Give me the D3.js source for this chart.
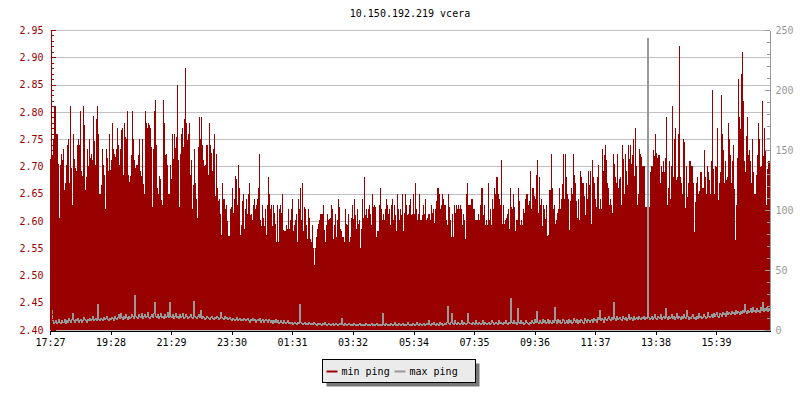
<!DOCTYPE html>
<html><head><meta charset="utf-8">
<script src="https://cdn.jsdelivr.net/npm/d3@7"></script>
<style>
body{margin:0;background:#fff}
svg text{font-family:"DejaVu Sans Mono","Liberation Mono",monospace;font-size:10px}
</style>
</head><body>
<svg id="c" width="800" height="400"></svg>
<script>
const chartTitle = "10.150.192.219 vcera";
const startTime = "17:27";
const stepMinutes = 2;
const seriesNames = ["min ping", "max ping"];
const xTickLabels = ["17:27","19:28","21:29","23:30","01:31","03:32","05:34","07:35","09:36","11:37","13:38","15:39"];
const leftTicks = [2.40,2.45,2.50,2.55,2.60,2.65,2.70,2.75,2.80,2.85,2.90,2.95];
const rightTicks = [0,50,100,150,200,250];

const minPing = [
2.713,2.713,2.719,2.749,2.810,2.810,2.760,2.760,2.705,2.606,
2.702,2.722,2.711,2.731,2.656,2.670,2.702,2.740,2.751,2.670,
2.811,2.697,2.630,2.760,2.714,2.697,2.692,2.740,2.751,2.740,
2.801,2.691,2.682,2.811,2.775,2.656,2.680,2.731,2.700,2.751,
2.716,2.722,2.711,2.792,2.746,2.702,2.786,2.811,2.760,2.650,
2.650,2.665,2.731,2.702,2.685,2.621,2.731,2.716,2.691,2.760,
2.694,2.711,2.780,2.731,2.722,2.717,2.731,2.771,2.740,2.702,
2.731,2.766,2.771,2.685,2.780,2.754,2.751,2.801,2.685,2.671,
2.682,2.720,2.801,2.751,2.711,2.697,2.702,2.702,2.720,2.751,
2.691,2.682,2.751,2.667,2.650,2.801,2.780,2.771,2.780,2.775,
2.771,2.736,2.625,2.731,2.801,2.821,2.740,2.661,2.650,2.682,
2.676,2.639,2.630,2.821,2.780,2.720,2.722,2.702,2.650,2.650,
2.702,2.676,2.760,2.714,2.760,2.734,2.754,2.850,2.711,2.625,
2.722,2.760,2.771,2.736,2.786,2.881,2.780,2.749,2.760,2.780,
2.685,2.711,2.621,2.665,2.731,2.670,2.641,2.606,2.736,2.791,
2.751,2.791,2.740,2.711,2.700,2.702,2.740,2.740,2.685,2.780,
2.740,2.725,2.691,2.731,2.760,2.645,2.722,2.661,2.636,2.641,
2.612,2.575,2.670,2.641,2.641,2.621,2.630,2.600,2.572,2.572,
2.621,2.625,2.661,2.615,2.641,2.682,2.676,2.630,2.702,2.661,
2.575,2.592,2.636,2.650,2.586,2.621,2.641,2.612,2.650,2.670,
2.610,2.612,2.601,2.630,2.641,2.621,2.630,2.641,2.661,2.722,
2.601,2.590,2.630,2.606,2.590,2.621,2.575,2.630,2.681,2.650,
2.621,2.630,2.590,2.630,2.615,2.595,2.561,2.630,2.561,2.621,
2.630,2.614,2.650,2.584,2.581,2.581,2.592,2.586,2.621,2.586,
2.601,2.621,2.641,2.581,2.592,2.601,2.612,2.561,2.641,2.621,
2.661,2.601,2.670,2.581,2.625,2.621,2.592,2.566,2.621,2.606,
2.566,2.561,2.592,2.551,2.520,2.551,2.571,2.586,2.595,2.601,
2.612,2.612,2.612,2.630,2.584,2.561,2.592,2.612,2.601,2.604,
2.606,2.630,2.621,2.566,2.592,2.612,2.570,2.601,2.641,2.626,
2.586,2.581,2.571,2.571,2.561,2.621,2.595,2.592,2.612,2.561,
2.571,2.606,2.630,2.604,2.641,2.610,2.586,2.621,2.595,2.601,
2.550,2.586,2.641,2.606,2.681,2.610,2.621,2.606,2.621,2.630,
2.612,2.592,2.650,2.625,2.630,2.625,2.571,2.581,2.581,2.630,
2.661,2.621,2.601,2.612,2.601,2.621,2.641,2.630,2.612,2.621,
2.592,2.630,2.641,2.601,2.630,2.610,2.581,2.650,2.621,2.601,
2.621,2.610,2.650,2.581,2.615,2.650,2.630,2.610,2.612,2.630,
2.641,2.610,2.612,2.650,2.612,2.670,2.621,2.601,2.612,2.650,
2.601,2.601,2.610,2.630,2.612,2.641,2.601,2.606,2.612,2.612,
2.601,2.630,2.615,2.621,2.596,2.621,2.636,2.661,2.661,2.650,
2.621,2.630,2.650,2.641,2.630,2.630,2.601,2.592,2.650,2.625,
2.601,2.570,2.612,2.571,2.630,2.615,2.630,2.621,2.630,2.621,
2.630,2.621,2.592,2.612,2.601,2.566,2.650,2.670,2.630,2.630,
2.630,2.641,2.641,2.621,2.621,2.601,2.601,2.601,2.612,2.601,
2.630,2.661,2.661,2.610,2.630,2.593,2.601,2.592,2.670,2.601,
2.621,2.592,2.641,2.621,2.661,2.650,2.681,2.681,2.650,2.641,
2.630,2.711,2.595,2.630,2.595,2.601,2.606,2.612,2.621,2.586,
2.661,2.626,2.621,2.650,2.625,2.581,2.601,2.601,2.661,2.636,
2.592,2.601,2.592,2.621,2.615,2.641,2.650,2.650,2.630,2.636,
2.691,2.621,2.661,2.661,2.645,2.641,2.685,2.711,2.615,2.681,
2.630,2.641,2.590,2.630,2.621,2.604,2.630,2.572,2.575,2.656,
2.656,2.722,2.661,2.621,2.630,2.595,2.601,2.615,2.621,2.661,
2.621,2.641,2.667,2.722,2.641,2.722,2.681,2.650,2.641,2.584,
2.636,2.661,2.650,2.722,2.685,2.670,2.636,2.606,2.641,2.601,
2.691,2.680,2.670,2.670,2.645,2.610,2.670,2.641,2.691,2.665,
2.691,2.595,2.711,2.681,2.670,2.641,2.625,2.681,2.702,2.621,
2.641,2.621,2.731,2.691,2.720,2.740,2.711,2.670,2.661,2.630,
2.641,2.630,2.615,2.722,2.705,2.681,2.670,2.722,2.661,2.676,
2.681,2.630,2.740,2.714,2.650,2.722,2.691,2.665,2.740,2.714,
2.740,2.705,2.720,2.751,2.683,2.771,2.700,2.630,2.650,2.731,
2.722,2.717,2.700,2.700,2.700,2.625,2.625,2.700,2.700,2.625,
2.690,2.701,2.701,2.730,2.719,2.759,2.725,2.715,2.721,2.721,
2.670,2.701,2.690,2.710,2.690,2.715,2.791,2.629,2.660,2.710,
2.640,2.701,2.811,2.681,2.750,2.770,2.675,2.681,2.759,2.921,
2.681,2.670,2.650,2.750,2.745,2.624,2.701,2.644,2.670,2.710,
2.710,2.701,2.701,2.670,2.580,2.635,2.670,2.681,2.650,2.655,
2.690,2.690,2.660,2.660,2.730,2.681,2.650,2.701,2.690,2.675,
2.650,2.710,2.840,2.695,2.650,2.701,2.699,2.770,2.638,2.670,
2.690,2.831,2.759,2.730,2.670,2.710,2.675,2.681,2.780,2.750,
2.721,2.670,2.710,2.739,2.659,2.565,2.629,2.715,2.860,2.791,
2.769,2.869,2.910,2.820,2.710,2.690,2.756,2.791,2.721,2.730,
2.710,2.670,2.750,2.690,2.650,2.650,2.684,2.721,2.780,2.750,
2.699,2.701,2.820,2.719,2.770,2.730,2.629,2.695,2.710,2.710
];

const maxPing = [
7,17,8,6,7,8,6,7,9,7, 6,8,7,7,9,6,8,7,10,8, 7,9,14,8,7,9,8,10,7,8, 9,7,8,11,9,8,7,9,8,10, 8,9,12,8,9,10,8,22,9,8, 10,9,8,11,9,10,12,9,8,10,
9,11,10,8,12,10,9,11,13,10, 14,11,9,12,10,13,11,9,12,10, 11,13,12,10,29,12,11,10,13,12, 11,14,10,12,13,11,12,15,11,10, 12,13,11,14,23,12,11,13,10,12, 14,11,12,10,13,11,12,15,11,23,
12,11,13,10,12,14,11,12,10,13, 11,12,14,10,11,13,12,10,11,12, 13,11,10,24,12,11,10,12,13,11, 17,10,12,11,9,10,12,11,10,9, 11,12,10,9,11,10,12,11,9,10, 15,11,10,9,12,10,11,9,10,11,
9,8,10,9,8,9,11,8,9,10, 8,9,8,10,9,8,9,10,8,7, 9,8,10,8,9,7,8,9,8,10, 7,8,9,7,8,9,8,7,9,8, 7,8,6,8,7,9,7,8,6,7, 8,7,6,8,7,6,7,8,6,7,
6,7,5,6,7,6,5,7,6,22, 7,6,5,6,7,5,6,5,7,6, 5,6,5,7,6,5,4,6,5,6, 5,4,6,5,7,5,4,5,6,5, 4,5,6,4,5,6,5,4,5,6, 5,10,5,4,6,5,4,5,6,5,
4,5,4,6,5,4,5,4,5,6, 4,5,4,5,4,6,5,4,5,4, 5,6,4,5,4,5,6,4,5,4, 5,4,14,5,4,6,5,4,5,4, 6,5,4,5,7,4,5,4,6,5, 4,5,6,4,5,4,5,7,5,4,
5,4,6,5,4,5,7,5,4,6, 5,4,5,6,4,5,6,5,8,5, 4,6,5,7,5,4,6,5,4,7, 5,6,4,5,6,5,7,20,6,5, 7,14,6,5,8,6,5,7,6,5, 6,8,5,7,6,5,6,14,7,6,
6,5,7,6,5,8,6,5,7,6, 5,6,8,5,7,6,5,6,7,5, 6,8,7,5,6,7,6,5,8,6, 7,6,5,7,6,8,6,5,7,6, 27,7,6,8,6,7,5,18,7,6, 8,6,7,5,6,8,7,6,5,7,
6,8,7,6,9,7,16,7,6,8, 7,6,9,7,8,6,7,9,6,8, 7,6,8,7,19,8,6,9,7,8, 6,7,9,8,6,7,8,6,9,7, 8,6,7,10,8,7,9,6,8,7, 9,8,7,6,10,8,7,9,8,7,
8,9,7,10,8,9,7,11,9,17, 8,10,9,7,11,9,8,10,12,9, 8,11,9,23,10,8,12,9,10,11, 9,8,12,10,9,11,8,10,13,9, 11,10,8,12,9,10,11,9,12,10, 9,11,10,12,9,11,10,243,11,9,
10,12,9,11,13,10,9,12,11,10, 13,9,11,12,10,18,11,9,12,10, 11,13,10,12,9,11,14,10,12,11, 9,12,10,13,11,10,17,12,9,11, 10,12,13,10,11,9,12,10,14,11, 12,10,11,13,12,10,11,15,12,11,
12,13,11,14,12,13,15,12,11,14, 13,12,15,13,14,12,16,13,15,14, 13,16,14,15,13,17,14,16,15,13, 16,14,17,15,22,16,14,17,15,16, 18,15,19,16,17,15,18,16,17,15, 19,17,23,16,18,17,19,16,18,17
];

const RED = "#990000", GREY = "#999999", GRID = "#c0c0c0";
const svg = d3.select("#c");
const plot = {left: 50, right: 770, top: 30, bottom: 330};

const [sh, sm] = startTime.split(":").map(Number);
const base = new Date(2000, 0, 1, sh, sm);
const stepMs = stepMinutes * 60000;
const times = minPing.map((d, i) => new Date(base.getTime() + i * stepMs));
const endT = new Date(base.getTime() + minPing.length * stepMs);

const x = d3.scaleTime().domain([base, endT]).range([plot.left, plot.right]);
const yL = d3.scaleLinear().domain([leftTicks[0], leftTicks[leftTicks.length-1]]).range([plot.bottom, plot.top]);
const yR = d3.scaleLinear().domain([rightTicks[0], rightTicks[rightTicks.length-1]]).range([plot.bottom, plot.top]);

const tickTimes = xTickLabels.map(s => {
  const [h, m] = s.split(":").map(Number);
  let t = new Date(2000, 0, 1, h, m);
  if (t < base) t = new Date(2000, 0, 2, h, m);
  return t;
});

// title
svg.append("text").attr("x", (plot.left + plot.right) / 2).attr("y", 17)
  .attr("text-anchor", "middle").attr("fill", "#000").text(chartTitle);

// grid
svg.append("g").selectAll("line").data(leftTicks).join("line")
  .attr("x1", plot.left).attr("x2", plot.right)
  .attr("y1", d => Math.round(yL(d)) + 0.5).attr("y2", d => Math.round(yL(d)) + 0.5)
  .attr("stroke", GRID).attr("stroke-width", 1);

// min ping bars
svg.append("g").attr("shape-rendering", "crispEdges").selectAll("rect").data(minPing).join("rect")
  .attr("x", (d, i) => x(times[i]))
  .attr("width", (d, i) => x(new Date(times[i].getTime() + stepMs)) - x(times[i]))
  .attr("y", d => Math.round(yL(d)))
  .attr("height", d => plot.bottom - Math.round(yL(d)))
  .attr("fill", RED);

// max ping line
const line = d3.line().x((d, i) => Math.round(x(times[i])) + 0.5).y(d => Math.round(yR(d)) + 0.5).curve(d3.curveStepAfter);
svg.append("path").datum(maxPing).attr("d", line)
  .attr("fill", "none").attr("stroke", GREY).attr("stroke-width", 1).attr("shape-rendering", "crispEdges");

// left axis
const leftMinor = d3.range(0, 56).map(i => +(leftTicks[0] + i * 0.01).toFixed(2));
const gL = svg.append("g").attr("transform", `translate(${plot.left + 0.5},0)`);
gL.call(d3.axisLeft(yL).tickValues(leftMinor).tickSizeInner(-3).tickSizeOuter(0).tickFormat(""));
gL.call(g => g.selectAll(".tick").remove());
const gL2 = svg.append("g").attr("transform", `translate(${plot.left + 0.5},0)`);
gL2.call(d3.axisLeft(yL).tickValues(leftMinor).tickSizeInner(-3).tickSizeOuter(0).tickFormat(""));
gL2.select(".domain").remove();
const gL3 = svg.append("g").attr("transform", `translate(${plot.left + 0.5},0)`);
gL3.call(d3.axisLeft(yL).tickValues(leftTicks).tickSizeInner(-5).tickSizeOuter(0).tickPadding(7).tickFormat(d3.format(".2f")));
gL3.select(".domain").remove();
[gL, gL2, gL3].forEach(g => {
  g.attr("shape-rendering", "crispEdges");
  g.selectAll("path,line").attr("stroke", RED);
  g.selectAll("text").attr("fill", RED).style("font-family", '"DejaVu Sans Mono",monospace').style("font-size", "10px");
});

// right axis
const rightMinor = d3.range(0, 26).map(i => i * 10);
const gR = svg.append("g").attr("transform", `translate(${plot.right - 0.5},0)`);
gR.call(d3.axisRight(yR).tickValues(rightMinor).tickSizeInner(-3).tickSizeOuter(0).tickFormat(""));
const gR2 = svg.append("g").attr("transform", `translate(${plot.right - 0.5},0)`);
gR2.call(d3.axisRight(yR).tickValues(rightTicks).tickSizeInner(-5).tickSizeOuter(0).tickPadding(6));
gR2.select(".domain").remove();
[gR, gR2].forEach(g => {
  g.attr("shape-rendering", "crispEdges");
  g.selectAll("path,line").attr("stroke", GREY);
  g.selectAll("text").attr("fill", GREY).style("font-family", '"DejaVu Sans Mono",monospace').style("font-size", "10px");
});

// bottom axis
const gB = svg.append("g").attr("transform", `translate(0,${plot.bottom + 0.5})`);
gB.call(d3.axisBottom(x).tickValues(tickTimes).tickSizeInner(4).tickSizeOuter(0).tickPadding(4)
  .tickFormat((d, i) => xTickLabels[i]));
gB.attr("shape-rendering", "crispEdges");
gB.selectAll("path,line").attr("stroke", "#000");
gB.selectAll("text").attr("fill", "#000").style("font-family", '"DejaVu Sans Mono",monospace').style("font-size", "10px");

// legend
const lg = svg.append("g").attr("transform", "translate(322.5,359.5)");
lg.append("rect").attr("x", 4).attr("y", 4).attr("width", 153).attr("height", 23).attr("fill", "#777");
lg.append("rect").attr("x", 0).attr("y", 0).attr("width", 153).attr("height", 23).attr("fill", "#ebebeb").attr("stroke", "#000");
const items = [{name: seriesNames[0], color: RED, x: 4}, {name: seriesNames[1], color: GREY, x: 72}];
items.forEach(it => {
  lg.append("line").attr("x1", it.x).attr("x2", it.x + 11).attr("y1", 12).attr("y2", 12)
    .attr("stroke", it.color).attr("stroke-width", 2);
  lg.append("text").attr("x", it.x + 15).attr("y", 15.5).attr("fill", "#000").text(it.name);
});
</script>
</body></html>
